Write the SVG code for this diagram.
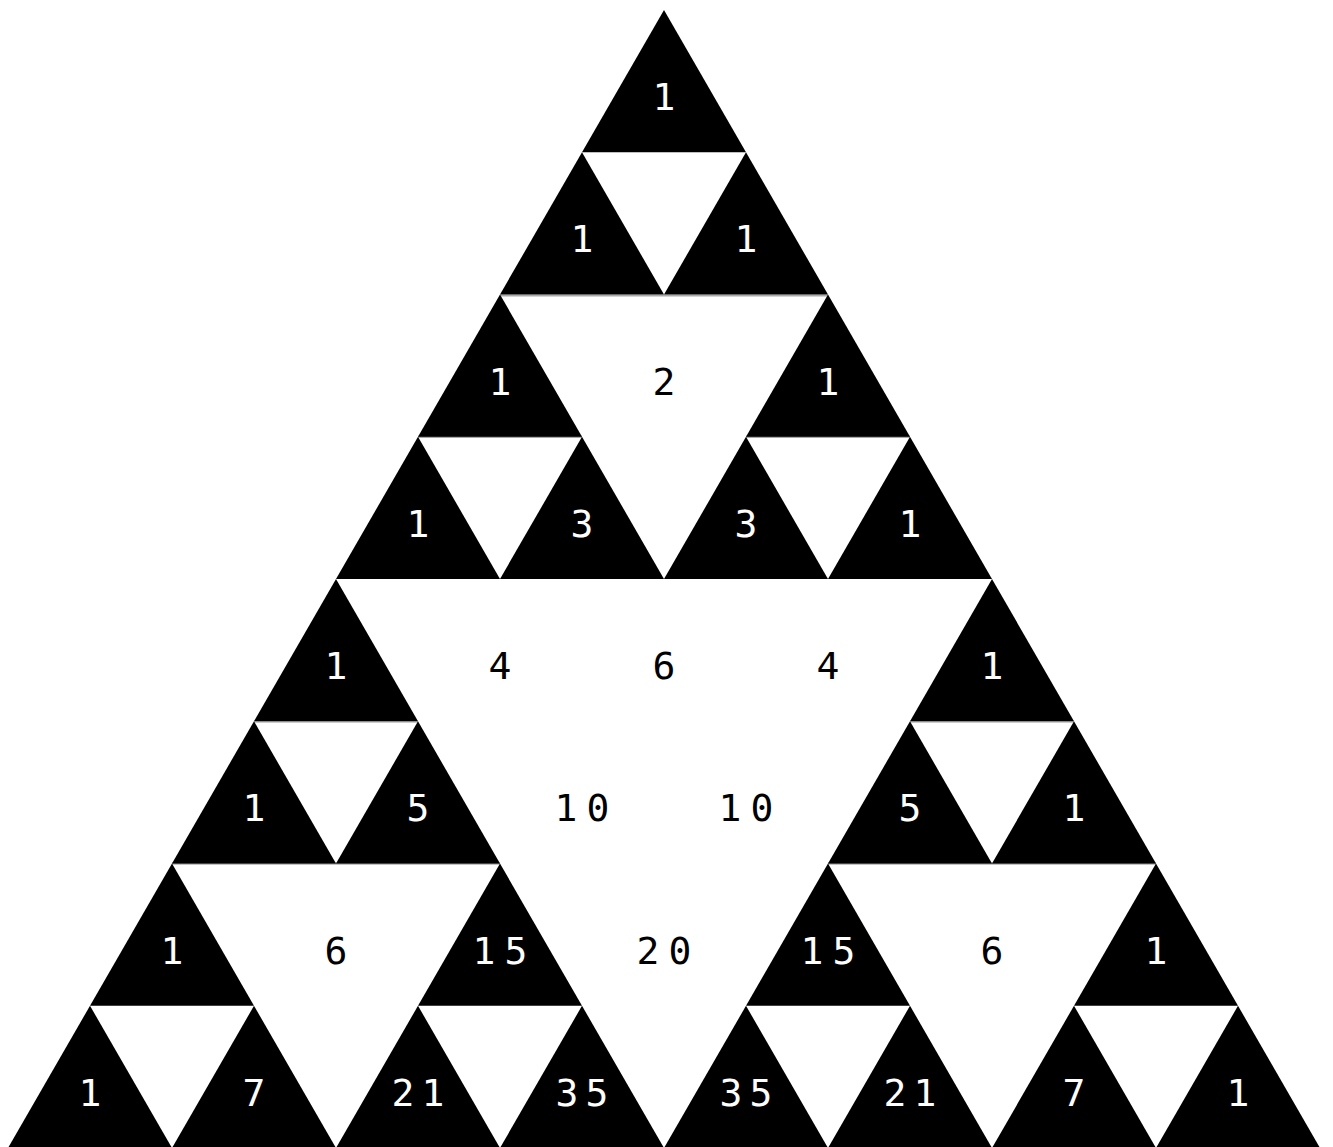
<svg xmlns="http://www.w3.org/2000/svg" width="1333" height="1147" viewBox="0 0 1333 1147">
<style>
.t{fill:#000;stroke:none}
.n{font-family:"DejaVu Sans Mono","Liberation Mono",monospace;font-size:38px;text-anchor:middle}
.w{fill:#fff}
.b{fill:#000}
.g{stroke-width:2;fill:none}
</style>
<rect width="1333" height="1147" fill="#fff"/>
<g id="connectors">
<line class="g" stroke="#aaa" x1="500" y1="295.5" x2="828" y2="295.5"/>
<line class="g" stroke="#888" x1="418" y1="436.75" x2="582" y2="436.75"/>
<line class="g" stroke="#888" x1="746" y1="436.75" x2="910" y2="436.75"/>
<line class="g" stroke="#bbb" x1="254" y1="721.75" x2="418" y2="721.75"/>
<line class="g" stroke="#bbb" x1="910" y1="721.75" x2="1074" y2="721.75"/>
<line class="g" stroke="#888" x1="172" y1="863.5" x2="500" y2="863.5"/>
<line class="g" stroke="#888" x1="828" y1="863.5" x2="1156" y2="863.5"/>
</g>
<g id="r0k0"><polygon class="t" points="664,10 746,152.25 582,152.25"/><text class="n w" x="664" y="110">1</text></g>
<g id="r1k0"><polygon class="t" points="582,152.25 664,294.5 500,294.5"/><text class="n w" x="582" y="252">1</text></g>
<g id="r1k1"><polygon class="t" points="746,152.25 828,294.5 664,294.5"/><text class="n w" x="746" y="252">1</text></g>
<g id="r2k0"><polygon class="t" points="500,294.5 582,436.75 418,436.75"/><text class="n w" x="500" y="394.5">1</text></g>
<g id="r2k1"><text class="n b" x="664" y="394.5">2</text></g>
<g id="r2k2"><polygon class="t" points="828,294.5 910,436.75 746,436.75"/><text class="n w" x="828" y="394.5">1</text></g>
<g id="r3k0"><polygon class="t" points="418,436.75 500,579 336,579"/><text class="n w" x="418" y="537">1</text></g>
<g id="r3k1"><polygon class="t" points="582,436.75 664,579 500,579"/><text class="n w" x="582" y="537">3</text></g>
<g id="r3k2"><polygon class="t" points="746,436.75 828,579 664,579"/><text class="n w" x="746" y="537">3</text></g>
<g id="r3k3"><polygon class="t" points="910,436.75 992,579 828,579"/><text class="n w" x="910" y="537">1</text></g>
<g id="r4k0"><polygon class="t" points="336,579 418,721.25 254,721.25"/><text class="n w" x="336" y="679">1</text></g>
<g id="r4k1"><text class="n b" x="500" y="679">4</text></g>
<g id="r4k2"><text class="n b" x="664" y="679">6</text></g>
<g id="r4k3"><text class="n b" x="828" y="679">4</text></g>
<g id="r4k4"><polygon class="t" points="992,579 1074,721.25 910,721.25"/><text class="n w" x="992" y="679">1</text></g>
<g id="r5k0"><polygon class="t" points="254,721.25 336,863.5 172,863.5"/><text class="n w" x="254" y="821">1</text></g>
<g id="r5k1"><polygon class="t" points="418,721.25 500,863.5 336,863.5"/><text class="n w" x="418" y="821">5</text></g>
<g id="r5k2"><text class="n b" x="566 598" y="821">10</text></g>
<g id="r5k3"><text class="n b" x="730 762" y="821">10</text></g>
<g id="r5k4"><polygon class="t" points="910,721.25 992,863.5 828,863.5"/><text class="n w" x="910" y="821">5</text></g>
<g id="r5k5"><polygon class="t" points="1074,721.25 1156,863.5 992,863.5"/><text class="n w" x="1074" y="821">1</text></g>
<g id="r6k0"><polygon class="t" points="172,863.5 254,1005.75 90,1005.75"/><text class="n w" x="172" y="963.5">1</text></g>
<g id="r6k1"><text class="n b" x="336" y="963.5">6</text></g>
<g id="r6k2"><polygon class="t" points="500,863.5 582,1005.75 418,1005.75"/><text class="n w" x="484 516" y="963.5">15</text></g>
<g id="r6k3"><text class="n b" x="648 680" y="963.5">20</text></g>
<g id="r6k4"><polygon class="t" points="828,863.5 910,1005.75 746,1005.75"/><text class="n w" x="812 844" y="963.5">15</text></g>
<g id="r6k5"><text class="n b" x="992" y="963.5">6</text></g>
<g id="r6k6"><polygon class="t" points="1156,863.5 1238,1005.75 1074,1005.75"/><text class="n w" x="1156" y="963.5">1</text></g>
<g id="r7k0"><polygon class="t" points="90,1005.75 172,1148 8,1148"/><text class="n w" x="90" y="1106">1</text></g>
<g id="r7k1"><polygon class="t" points="254,1005.75 336,1148 172,1148"/><text class="n w" x="254" y="1106">7</text></g>
<g id="r7k2"><polygon class="t" points="418,1005.75 500,1148 336,1148"/><text class="n w" x="403 433" y="1106">21</text></g>
<g id="r7k3"><polygon class="t" points="582,1005.75 664,1148 500,1148"/><text class="n w" x="567 597" y="1106">35</text></g>
<g id="r7k4"><polygon class="t" points="746,1005.75 828,1148 664,1148"/><text class="n w" x="731 761" y="1106">35</text></g>
<g id="r7k5"><polygon class="t" points="910,1005.75 992,1148 828,1148"/><text class="n w" x="895 925" y="1106">21</text></g>
<g id="r7k6"><polygon class="t" points="1074,1005.75 1156,1148 992,1148"/><text class="n w" x="1074" y="1106">7</text></g>
<g id="r7k7"><polygon class="t" points="1238,1005.75 1320,1148 1156,1148"/><text class="n w" x="1238" y="1106">1</text></g>
</svg>
